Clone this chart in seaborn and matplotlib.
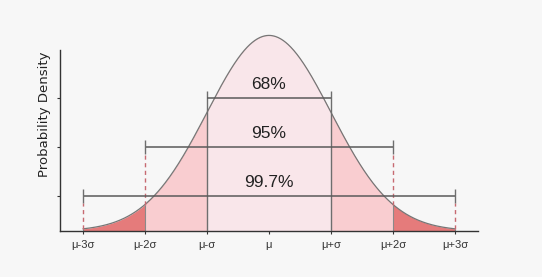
import numpy as np
import pandas as pd
import matplotlib
matplotlib.use("Agg")
import matplotlib.pyplot as plt
import seaborn as sns

# ---- data ----
tick_positions = [-3, -2, -1, 0, 1, 2, 3]
tick_labels = ["μ-3σ", "μ-2σ", "μ-σ", "μ", "μ+σ", "μ+2σ", "μ+3σ"]
band_labels = ["68%", "95%", "99.7%"]
band_half_widths = [1, 2, 3]
band_levels = [0.271, 0.171, 0.071]
band_colors = ["#f9e6ea", "#f9cdd0", "#e57b7b"]

x = np.linspace(-3, 3, 601)
pdf = np.exp(-x ** 2 / 2) / np.sqrt(2 * np.pi)
curve = pd.DataFrame({"x": x, "density": pdf})

def npdf(v):
    return np.exp(-v ** 2 / 2) / np.sqrt(2 * np.pi)

# ---- style ----
sns.set_style("white")
plt.rcParams["font.family"] = ["Liberation Sans", "DejaVu Sans"]
bg = "#f7f7f7"

fig = plt.figure(figsize=(5.42, 2.77), dpi=100, facecolor=bg)
ax = fig.add_axes([60 / 542, 46 / 277, 418 / 542, 201 / 277])
ax.set_facecolor(bg)

# fills: outer to inner
for hw, col in zip(reversed(band_half_widths), reversed(band_colors)):
    m = (curve["x"] >= -hw - 1e-9) & (curve["x"] <= hw + 1e-9)
    ax.fill_between(curve["x"][m], 0, curve["density"][m], color=col, lw=0, zorder=1)

# fill boundary lines below curve at ±2σ and ±3σ
for hw in [2, 3]:
    for s in (-1, 1):
        ax.vlines(s * hw, 0, npdf(hw), color="#8a8a8a", lw=0.8, zorder=2)

sns.lineplot(data=curve, x="x", y="density", ax=ax, color="#767676", lw=0.9, zorder=3)

cap = 0.0145
for lab, hw, lvl in zip(band_labels, band_half_widths, band_levels):
    ax.hlines(lvl, -hw, hw, color="#5a5a5a", lw=1.1, zorder=5)
    for s in (-1, 1):
        if hw == 1:
            ax.vlines(s * hw, 0, lvl + cap, color="#6e6e6e", lw=1.0, zorder=4)
        else:
            ax.vlines(s * hw, lvl - cap, lvl + cap, color="#6e6e6e", lw=1.0, zorder=5)
            ax.vlines(s * hw, npdf(hw), lvl - cap, color="#c76a72", lw=1.0,
                      linestyles=(0, (3, 2.5)), zorder=4)
    ax.text(0, lvl + 0.0285, lab, ha="center", va="center", fontsize=12.5,
            color="#222222", zorder=6)

ax.set_xlim(-3.37, 3.37)
ax.set_ylim(0, 0.41)
ax.set_xticks(tick_positions)
ax.set_xticklabels(tick_labels)
ax.set_yticks(band_levels)
ax.set_yticklabels([])
ax.set_xlabel("")
ax.set_ylabel("Probability Density", fontsize=9.5, color="#222222",
              family=["DejaVu Sans"])
ax.yaxis.set_label_coords(-0.0215, 0.582)

for side in ["top", "right"]:
    ax.spines[side].set_visible(False)
for side in ["left", "bottom"]:
    ax.spines[side].set_color("#333333")
    ax.spines[side].set_linewidth(1.0)
ax.spines["left"].set_bounds(0, 0.3685)
ax.tick_params(axis="x", length=2.5, width=0.8, color="#333333", labelsize=8,
               labelcolor="#333333", pad=4, bottom=True)
ax.tick_params(axis="y", length=2.5, width=0.8, color="#333333", left=True)

fig.savefig("out.png", dpi=100, facecolor=bg)
